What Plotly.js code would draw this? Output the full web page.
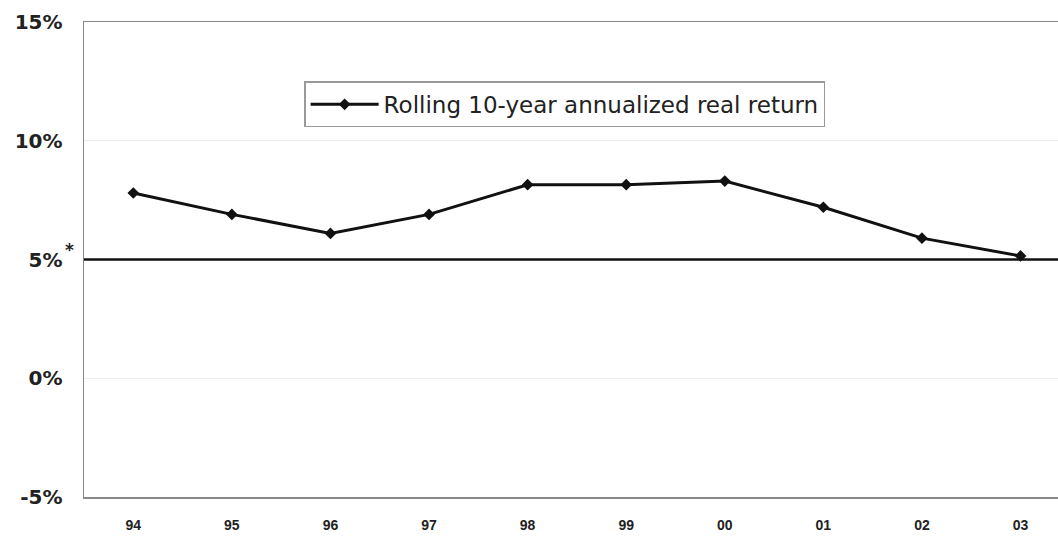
<!DOCTYPE html>
<html><head><meta charset="utf-8">
<script src="https://cdn.plot.ly/plotly-3.0.1.min.js"></script>
<style>html,body{margin:0;padding:0;background:#fff}#chart{width:1058px;height:538px}</style>
</head><body><div id="chart"></div>
<script>
const years = ["94","95","96","97","98","99","00","01","02","03"];
const realReturn = [7.8, 6.9, 6.1, 6.9, 8.15, 8.15, 8.3, 7.2, 5.9, 5.15];
const yTickVals = [-5, 0, 5, 10, 15];
const yTickText = ["-5%", "0%", "5%", "10%", "15%"];
const benchmark = 5;
const benchmarkNote = "*";
const seriesName = "Rolling 10-year annualized real return";

const trace = {
  x: years, y: realReturn, type: "scatter", mode: "lines+markers",
  name: seriesName,
  line: {color: "#111", width: 3},
  marker: {symbol: "diamond", size: 9, color: "#111"}
};
const layout = {
  width: 1058, height: 538,
  margin: {l: 84, r: 0, t: 22, b: 41},
  paper_bgcolor: "#fff", plot_bgcolor: "#fff",
  font: {family: "Liberation Sans, Arial, sans-serif", color: "#222"},
  showlegend: true,
  legend: {
    x: 0.226, y: 0.875, xanchor: "left", yanchor: "top",
    bordercolor: "#999", borderwidth: 1.5, bgcolor: "#fff",
    itemwidth: 68,
    font: {family: "DejaVu Sans, sans-serif", size: 23, color: "#222"}
  },
  xaxis: {
    type: "category", range: [-0.5, 9.38],
    showline: true, linecolor: "#888", linewidth: 1.5, mirror: true,
    showgrid: false, zeroline: false, ticks: "", ticklabelstandoff: 15,
    tickfont: {family: "Liberation Sans Narrow, Liberation Sans, Arial, sans-serif", size: 14, weight: "bold", color: "#222"}
  },
  yaxis: {
    range: [-5, 15], tickvals: yTickVals, ticktext: yTickText,
    showline: true, linecolor: "#888", linewidth: 1.5,
    showgrid: true, gridcolor: "#ececec", gridwidth: 1,
    zeroline: false, ticks: "", ticklabelstandoff: 16,
    tickfont: {family: "DejaVu Sans, sans-serif", size: 20, weight: "bold", color: "#222"}
  },
  shapes: [{
    type: "line", xref: "paper", x0: 0, x1: 1, yref: "y", y0: benchmark, y1: benchmark,
    line: {color: "#111", width: 2.5}
  }],
  annotations: [{
    xref: "paper", x: -0.0145, yref: "y", y: benchmark, yshift: 10,
    text: benchmarkNote, showarrow: false, xanchor: "center", yanchor: "middle",
    font: {family: "DejaVu Sans, sans-serif", size: 17, weight: "bold", color: "#222"}
  }]
};
Plotly.newPlot("chart", [trace], layout, {displayModeBar: false, staticPlot: true});
</script></body></html>
